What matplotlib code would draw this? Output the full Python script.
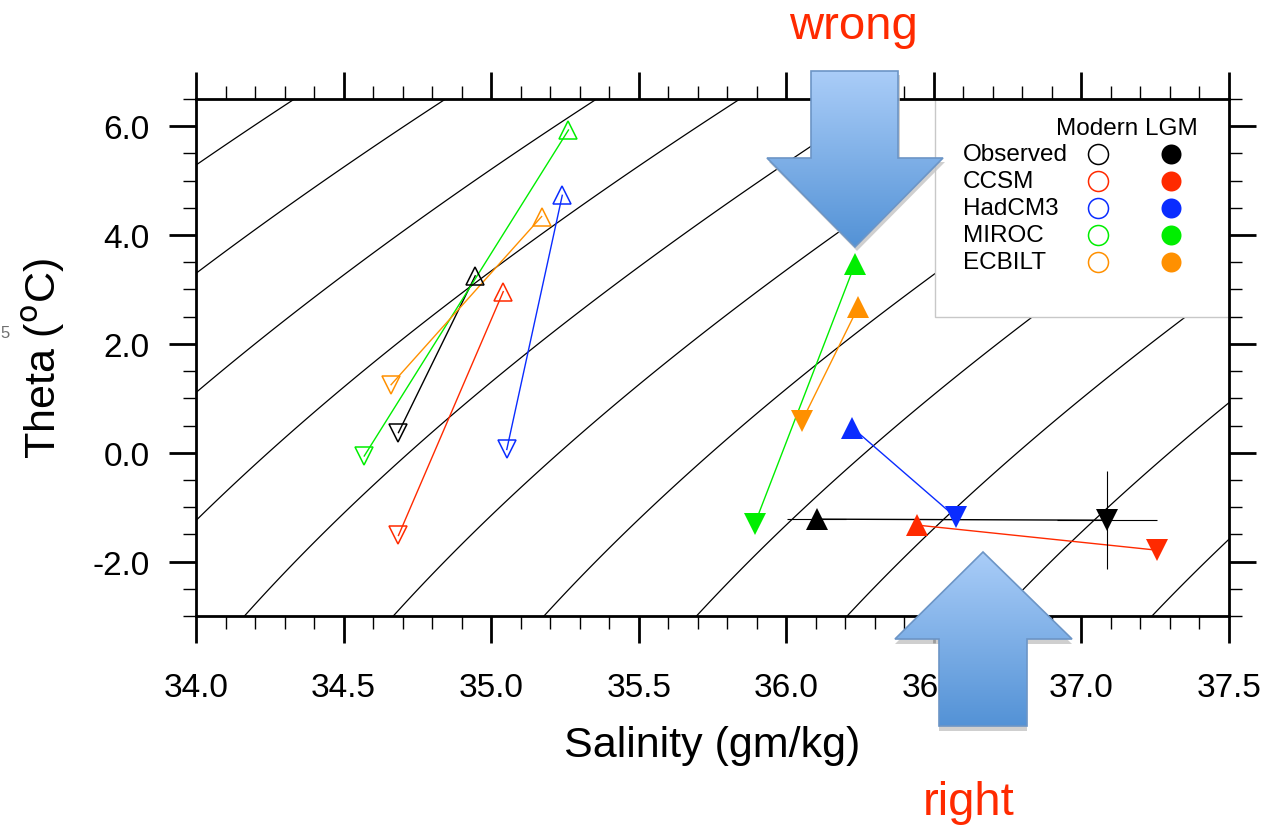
import numpy as np
import matplotlib
matplotlib.use("Agg")
import matplotlib.pyplot as plt
from matplotlib.patches import Polygon, Rectangle
from matplotlib.ticker import MultipleLocator, FormatStrFormatter

plt.rcParams['font.family'] = ['Liberation Sans', 'DejaVu Sans']

# ---- data ---------------------------------------------------------------
models = ['Observed', 'CCSM', 'HadCM3', 'MIROC', 'ECBILT']
colors = ['#000000', '#ff2a00', '#0a2cff', '#00ee00', '#ff9000']

# Modern deep waters (open triangles)
modern_up_S = [34.946, 35.041, 35.241, 35.262, 35.171]
modern_up_T = [3.25, 2.96, 4.73, 5.93, 4.34]
modern_dn_S = [34.686, 34.686, 35.053, 34.570, 34.661]
modern_dn_T = [0.37, -1.52, 0.06, -0.06, 1.25]

# LGM deep waters (filled triangles)
lgm_up_S = [36.103, 36.444, 36.224, 36.233, 36.243]
lgm_up_T = [-1.22, -1.33, 0.46, 3.47, 2.67]
lgm_dn_S = [37.086, 37.255, 36.575, 35.893, 36.053]
lgm_dn_T = [-1.24, -1.79, -1.19, -1.31, 0.58]

# uncertainty on the observed LGM values
obs_up_xerr = 0.10
obs_dn_xerr = 0.17
obs_dn_yerr = 0.90

# density (sigma, 4000 dbar reference) contour levels
sigma_levels = [44.62, 45.01, 45.40, 45.77, 46.14, 46.535, 46.935, 47.34, 47.74, 48.14, 48.55]

xtick_vals = [34.0, 34.5, 35.0, 35.5, 36.0, 36.5, 37.0, 37.5]
ytick_vals = [-2.0, 0.0, 2.0, 4.0, 6.0]


def sigma_p(S, T, p=400.0):
    """UNESCO EOS-80 density anomaly at pressure p (bar)."""
    rw = (999.842594 + 6.793952e-2 * T - 9.095290e-3 * T**2 + 1.001685e-4 * T**3
          - 1.120083e-6 * T**4 + 6.536332e-9 * T**5)
    r0 = (rw + S * (0.824493 - 4.0899e-3 * T + 7.6438e-5 * T**2 - 8.2467e-7 * T**3
                    + 5.3875e-9 * T**4)
          + S**1.5 * (-5.72466e-3 + 1.0227e-4 * T - 1.6546e-6 * T**2) + 4.8314e-4 * S**2)
    Kw = 19652.21 + 148.4206 * T - 2.327105 * T**2 + 1.360477e-2 * T**3 - 5.155288e-5 * T**4
    K0 = (Kw + S * (54.6746 - 0.603459 * T + 1.09987e-2 * T**2 - 6.1670e-5 * T**3)
          + S**1.5 * (7.944e-2 + 1.6483e-2 * T - 5.3009e-4 * T**2))
    Aw = 3.239908 + 1.43713e-3 * T + 1.16092e-4 * T**2 - 5.77905e-7 * T**3
    A = Aw + S * (2.2838e-3 - 1.0981e-5 * T - 1.6078e-6 * T**2) + 1.91075e-4 * S**1.5
    Bw = 8.50935e-5 - 6.12293e-6 * T + 5.2787e-8 * T**2
    B = Bw + S * (-9.9348e-7 + 2.0816e-8 * T + 9.1697e-10 * T**2)
    K = K0 + A * p + B * p**2
    return r0 / (1.0 - p / K) - 1000.0


W, H = 1283, 828
fig = plt.figure(figsize=(W / 100, H / 100), dpi=100)
L, R, T_, B_ = 196, 1229, 100, 617
ax = fig.add_axes([L / W, 1 - B_ / H, (R - L) / W, (B_ - T_) / H])

# isopycnals in the background
sg = np.linspace(33.9, 37.6, 300)
tg = np.linspace(-3.2, 6.7, 300)
SS, TT = np.meshgrid(sg, tg)
ax.contour(SS, TT, sigma_p(SS, TT), levels=sigma_levels, colors='k', linewidths=0.9, zorder=1)

# each model: two deep-water end members joined by a line
lw_line = 1.0
for i, c in enumerate(colors):
    ax.plot([modern_up_S[i], modern_dn_S[i]], [modern_up_T[i], modern_dn_T[i]],
            color=c, lw=lw_line, zorder=3)
    ax.plot(modern_up_S[i], modern_up_T[i], marker='^', ms=13.2, mfc='none', mec=c, mew=1.1, zorder=4)
    ax.plot(modern_dn_S[i], modern_dn_T[i], marker='v', ms=13.2, mfc='none', mec=c, mew=1.1, zorder=4)
    ax.plot([lgm_up_S[i], lgm_dn_S[i]], [lgm_up_T[i], lgm_dn_T[i]],
            color=c, lw=lw_line, zorder=3)
    ax.plot(lgm_up_S[i], lgm_up_T[i], marker='^', ms=16.3, mfc=c, mec=c, mew=0, zorder=5)
    ax.plot(lgm_dn_S[i], lgm_dn_T[i], marker='v', ms=16.3, mfc=c, mec=c, mew=0, zorder=5)

ax.errorbar(lgm_up_S[0], lgm_up_T[0], xerr=obs_up_xerr, fmt='none', ecolor='k',
            elinewidth=0.8, capsize=0, zorder=3)
ax.errorbar(lgm_dn_S[0], lgm_dn_T[0], xerr=obs_dn_xerr, yerr=obs_dn_yerr, fmt='none', ecolor='k',
            elinewidth=0.8, capsize=0, zorder=3)

ax.set_xlim(34.0, 37.5)
ax.set_ylim(-3.0, 6.5)
ax.set_xticks(xtick_vals)
ax.set_yticks(ytick_vals)
ax.xaxis.set_major_formatter(FormatStrFormatter('%.1f'))
ax.yaxis.set_major_formatter(FormatStrFormatter('%.1f'))
ax.xaxis.set_minor_locator(MultipleLocator(0.1))
ax.yaxis.set_minor_locator(MultipleLocator(0.5))
ax.tick_params(which='both', direction='out', top=True, right=True, labelsize=24)
ax.tick_params(which='major', length=19.5, width=2.0)
ax.tick_params(which='minor', length=9.5, width=1.0)
ax.tick_params(axis='x', which='major', pad=21)
ax.tick_params(axis='y', which='major', pad=14)
for sp in ax.spines.values():
    sp.set_linewidth(2.0)

ax.set_xlabel('Salinity (gm/kg)', fontsize=31, labelpad=16)
ax.set_ylabel('Theta ($^{\\rm o}$C)', fontsize=31, labelpad=18)


# legend block (pixel positions converted to axes fractions)
def axfrac(x, y):
    return (x - L) / (R - L), (B_ - y) / (B_ - T_)


x0, y0 = axfrac(935, 318)
ax.add_patch(Rectangle((x0, y0), 1 - x0, 1 - y0, transform=ax.transAxes, facecolor='white',
                       edgecolor='#c8c8c8', lw=1.0, zorder=2.4, clip_on=False))
hx, hy = axfrac(1127, 129)
ax.text(hx, hy, 'Modern LGM', transform=ax.transAxes, fontsize=17.5, ha='center', va='center', zorder=6)
rows_y = [155, 182, 209, 236, 263]
for i, name in enumerate(models):
    tx, ty = axfrac(963, rows_y[i])
    ax.text(tx, ty, name, transform=ax.transAxes, fontsize=17.5, ha='left', va='center', zorder=6)
    mx, my = axfrac(1098, rows_y[i])
    ax.plot(mx, my, 'o', ms=14.4, mfc='none', mec=colors[i], mew=1.1, transform=ax.transAxes,
            clip_on=False, zorder=6)
    fx, fy = axfrac(1171, rows_y[i])
    ax.plot(fx, fy, 'o', ms=14.4, mfc=colors[i], mec=colors[i], mew=0, transform=ax.transAxes,
            clip_on=False, zorder=6)

# annotation layer in pixel coordinates
ov = fig.add_axes([0, 0, 1, 1], zorder=10)
ov.set_xlim(0, W)
ov.set_ylim(H, 0)
ov.axis('off')
ov.patch.set_alpha(0)


def block_arrow(verts, shadow_off):
    sh = Polygon([(x + shadow_off[0], y + shadow_off[1]) for x, y in verts], closed=True,
                 facecolor='#c4c4c4', edgecolor='none', alpha=0.8, zorder=1)
    ov.add_patch(sh)
    poly = Polygon(verts, closed=True, facecolor='none', edgecolor='#6c95c6', lw=1.2, zorder=3)
    ov.add_patch(poly)
    xs = [v[0] for v in verts]
    ys = [v[1] for v in verts]
    grad = np.linspace(0, 1, 256).reshape(-1, 1)
    cmap = matplotlib.colors.LinearSegmentedColormap.from_list('blk', ['#aacdf8', '#5392d6'])
    im = ov.imshow(grad, cmap=cmap, aspect='auto', extent=(min(xs), max(xs), max(ys), min(ys)),
                   zorder=2, interpolation='bicubic')
    im.set_clip_path(poly)


block_arrow([(811, 72), (898, 72), (898, 159), (943, 159), (855, 248), (767, 159), (811, 159)], (2, 4))
block_arrow([(983, 553), (1072, 640), (1027, 640), (1027, 727), (939, 727), (939, 640), (895, 640)], (0, 5))
ov.set_xlim(0, W)
ov.set_ylim(H, 0)

ov.text(853, 39, 'wrong', color='#ff2a00', fontsize=34, ha='center', va='baseline')
ov.text(969, 815, 'right', color='#ff2a00', fontsize=34, ha='center', va='baseline')
ov.text(0, 338, '5', color='#707070', fontsize=12, ha='left', va='baseline')

fig.savefig('out.png', dpi=100)
